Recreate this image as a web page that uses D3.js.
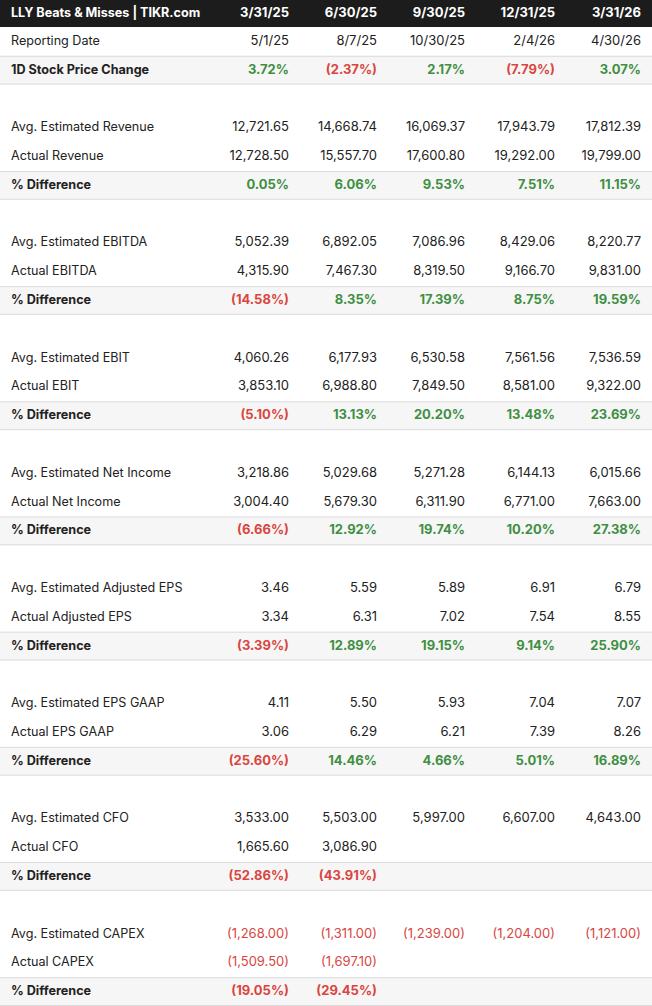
<!DOCTYPE html>
<html>
<head>
<meta charset="utf-8">
<script src="https://cdn.jsdelivr.net/npm/d3@7"></script>
<style>
  body { margin: 0; background: #fff; }
  svg text { font-family: Inter, "Noto Sans", sans-serif; }
</style>
</head>
<body>
<svg id="chart"></svg>
<script>
// Columns (fiscal quarter end)
var periods = ["3/31/25", "6/30/25", "9/30/25", "12/31/25", "3/31/26"];
var reportingDates = ["5/1/25", "8/7/25", "10/30/25", "2/4/26", "4/30/26"];
var priceChange = [3.72, -2.37, 2.17, -7.79, 3.07];

// metric names
var metrics = ["Revenue", "EBITDA", "EBIT", "Net Income", "Adjusted EPS", "EPS GAAP", "CFO", "CAPEX"];

// estimated values
var estRevenue = [12721.65, 14668.74, 16069.37, 17943.79, 17812.39];
var estEBITDA = [5052.39, 6892.05, 7086.96, 8429.06, 8220.77];
var estEBIT = [4060.26, 6177.93, 6530.58, 7561.56, 7536.59];
var estNetIncome = [3218.86, 5029.68, 5271.28, 6144.13, 6015.66];
var estAdjEPS = [3.46, 5.59, 5.89, 6.91, 6.79];
var estEPSGAAP = [4.11, 5.50, 5.93, 7.04, 7.07];
var estCFO = [3533.00, 5503.00, 5997.00, 6607.00, 4643.00];
var estCAPEX = [-1268.00, -1311.00, -1239.00, -1204.00, -1121.00];

// actual values
var actRevenue = [12728.50, 15557.70, 17600.80, 19292.00, 19799.00];
var actEBITDA = [4315.90, 7467.30, 8319.50, 9166.70, 9831.00];
var actEBIT = [3853.10, 6988.80, 7849.50, 8581.00, 9322.00];
var actNetIncome = [3004.40, 5679.30, 6311.90, 6771.00, 7663.00];
var actAdjEPS = [3.34, 6.31, 7.02, 7.54, 8.55];
var actEPSGAAP = [3.06, 6.29, 6.21, 7.39, 8.26];
var actCFO = [1665.60, 3086.90, null, null, null];
var actCAPEX = [-1509.50, -1697.10, null, null, null];

// % difference
var diffRevenue = [0.05, 6.06, 9.53, 7.51, 11.15];
var diffEBITDA = [-14.58, 8.35, 17.39, 8.75, 19.59];
var diffEBIT = [-5.10, 13.13, 20.20, 13.48, 23.69];
var diffNetIncome = [-6.66, 12.92, 19.74, 10.20, 27.38];
var diffAdjEPS = [-3.39, 12.89, 19.15, 9.14, 25.90];
var diffEPSGAAP = [-25.60, 14.46, 4.66, 5.01, 16.89];
var diffCFO = [-52.86, -43.91, null, null, null];
var diffCAPEX = [-19.05, -29.45, null, null, null];

var estimates = [estRevenue, estEBITDA, estEBIT, estNetIncome, estAdjEPS, estEPSGAAP, estCFO, estCAPEX];
var actuals = [actRevenue, actEBITDA, actEBIT, actNetIncome, actAdjEPS, actEPSGAAP, actCFO, actCAPEX];
var diffs = [diffRevenue, diffEBITDA, diffEBIT, diffNetIncome, diffAdjEPS, diffEPSGAAP, diffCFO, diffCAPEX];

var width = 652, height = 1006, headerH = 27;
var green = "#3f8f43", red = "#d9463f", dark = "#222";

// build the list of rows
var rows = [];
rows.push({label: "Reporting Date", values: reportingDates, kind: "text"});
rows.push({label: "1D Stock Price Change", values: priceChange, kind: "pct"});
metrics.forEach(function(m, i) {
    rows.push({label: "", values: [], kind: "blank"});
    rows.push({label: "Avg. Estimated " + m, values: estimates[i], kind: "num"});
    rows.push({label: "Actual " + m, values: actuals[i], kind: "num"});
    rows.push({label: "% Difference", values: diffs[i], kind: "pct"});
});

var svg = d3.select("#chart").attr("width", width).attr("height", height);

var y = d3.scaleBand().domain(d3.range(rows.length)).range([headerH, height]);
// right edge of each value column
var x = d3.scaleOrdinal().domain(d3.range(periods.length)).range([289, 377, 465, 555, 641]);

var fmtNum = d3.format(",.2f");
function numText(v) {
    if (v == null) return "";
    return v < 0 ? "(" + fmtNum(-v) + ")" : fmtNum(v);
}
function pctText(v) {
    if (v == null) return "";
    return v < 0 ? "(" + v.toFixed(2).slice(1) + "%)" : v.toFixed(2) + "%";
}

// header
svg.append("rect").attr("x", 0).attr("y", 0).attr("width", width).attr("height", headerH).attr("fill", "#1c1c1c");
svg.append("text").attr("x", 11).attr("y", 17).attr("fill", "#fff")
    .attr("font-size", 12.6).attr("font-weight", 700)
    .text("LLY Beats & Misses | TIKR.com");
svg.selectAll("text.period").data(periods).enter().append("text")
    .attr("class", "period")
    .attr("x", (d, i) => x(i)).attr("y", 17)
    .attr("text-anchor", "end").attr("fill", "#fff")
    .attr("font-size", 13).attr("font-weight", 700)
    .text(d => d);

// rows
var g = svg.selectAll("g.row").data(rows).enter().append("g")
    .attr("class", "row")
    .attr("transform", (d, i) => `translate(0,${y(i)})`);

// shaded rows with borders
var shaded = g.filter(d => d.kind == "pct");
shaded.append("rect")
    .attr("width", width).attr("height", y.bandwidth()).attr("fill", "#f6f6f6");
shaded.append("line")
    .attr("x1", 0).attr("x2", width).attr("y1", 0.5).attr("y2", 0.5).attr("stroke", "#dcdcdc");
shaded.append("line")
    .attr("x1", 0).attr("x2", width).attr("y1", y.bandwidth() - 0.5).attr("y2", y.bandwidth() - 0.5).attr("stroke", "#dcdcdc");

var baseY = y.bandwidth() / 2 + 3.5;

g.append("text")
    .attr("x", 11).attr("y", baseY)
    .attr("font-size", 12.6).attr("fill", dark)
    .attr("font-weight", d => d.kind == "pct" ? 700 : 400)
    .text(d => d.label);

g.each(function(row) {
    d3.select(this).selectAll("text.val").data(row.values).enter().append("text")
        .attr("class", "val")
        .attr("x", (d, i) => x(i)).attr("y", baseY)
        .attr("text-anchor", "end").attr("font-size", 13)
        .attr("font-weight", row.kind == "pct" ? 700 : 400)
        .attr("fill", d => {
            if (row.kind == "text") return dark;
            if (row.kind == "pct") return d < 0 ? red : green;
            return d < 0 ? red : dark;
        })
        .text(d => row.kind == "text" ? d : (row.kind == "pct" ? pctText(d) : numText(d)));
});
</script>
</body>
</html>
